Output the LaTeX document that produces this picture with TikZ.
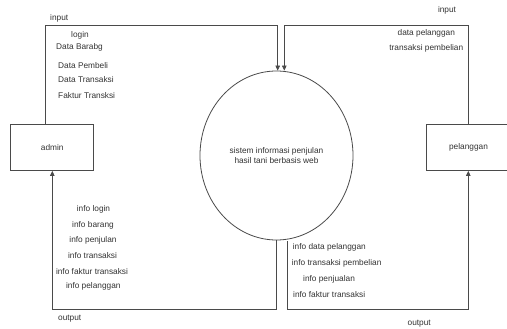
\documentclass[tikz,border=0pt]{standalone}
\usepackage{fontspec}
\setmainfont{Liberation Sans}
\usetikzlibrary{arrows.meta,shapes.geometric,calc}
\definecolor{ln}{HTML}{4A4A4A}
\definecolor{tx}{HTML}{333333}
\begin{document}
\begin{tikzpicture}[x=1pt,y=-1pt,
  every node/.style={font=\fontsize{8.3}{10}\selectfont,text=tx,inner sep=0pt},
  ent/.style={draw=ln,line width=0.8pt,minimum width=83pt,minimum height=46pt},
  proc/.style={draw=ln,line width=0.8pt,ellipse,minimum width=153pt,minimum height=169pt},
  flow/.style={draw=ln,line width=0.8pt,-{Triangle[length=5pt,width=4.5pt]}},
  lbl/.style={anchor=center}]
\useasboundingbox (0,0) rectangle (507,329);
\fill[white] (0,0) rectangle (507,329);

\node[ent] (admin) at (52.3,147.5) {admin};
\node[ent,minimum width=85pt] (pel) at (468.5,147.5) {pelanggan};
\node[proc,align=center] (sis) at (276.5,155.5) {sistem informasi penjulan\\hasil tani berbasis web};

\coordinate (inL) at (45.7,25);
\coordinate (inR) at (468.3,25);
\coordinate (outY) at (0,309.3);
\coordinate (pt) at (pel.north -| inR);
\coordinate (pb) at (pel.south -| inR);
\coordinate (at) at (admin.north -| inL);

% input flows
\draw[flow] (at) -- (inL) -- ([xshift=1.2pt]sis.north |- inL) -- ([xshift=1.2pt]sis.north);
\draw[flow] (pt) -- (inR) -- ([xshift=7.8pt]sis.north |- inR) -- ([xshift=7.8pt]sis.north);

% output flows
\draw[flow] ([xshift=0.2pt]sis.south) -- ([xshift=0.2pt]sis.south |- outY) -- (admin.south |- outY) -- (admin.south);
\draw[flow] ([xshift=10.8pt,yshift=-0.8pt]sis.south) -- ([xshift=10.8pt]sis.south |- outY) -- (pb |- outY) -- (pb);

% labels top-left
\node[anchor=west] (iL) at (50,18.3) {input};
\node (l1) at (80,35) {login};
\node[anchor=west] (l2) at (56,47.3) {Data Barabg};
\node[anchor=west] (l3) at (58,65.7) {Data Pembeli};
\node[anchor=west] (l4) at (58,80) {Data Transaksi};
\node[anchor=west] (l5) at (58,96) {Faktur Transksi};

% labels top-right
\node (iR) at (447,10) {input};
\node (r1) at (426.3,33.3) {data pelanggan};
\node (r2) at (426.3,48.3) {transaksi pembelian};

% labels bottom-left
\node (o1) at (93.5,209.3) {info login};
\node (o2) at (93,225) {info barang};
\node (o3) at (93,240.3) {info penjulan};
\node (o4) at (92.5,255.7) {info transaksi};
\node (o5) at (92,271.7) {info faktur transaksi};
\node (o6) at (93.3,286.7) {info pelanggan};
\node[anchor=west] (oL) at (58,318.3) {output};

% labels bottom-right
\node[anchor=west] (p1) at (292.7,247.7) {info data pelanggan};
\node[anchor=west] (p2) at (291.7,263.3) {info transaksi pembelian};
\node[anchor=west] (p3) at (303,279) {info penjualan};
\node[anchor=west] (p4) at (293,294.3) {info faktur transaksi};
\node (oR) at (419.2,323.3) {output};
\end{tikzpicture}
\end{document}
